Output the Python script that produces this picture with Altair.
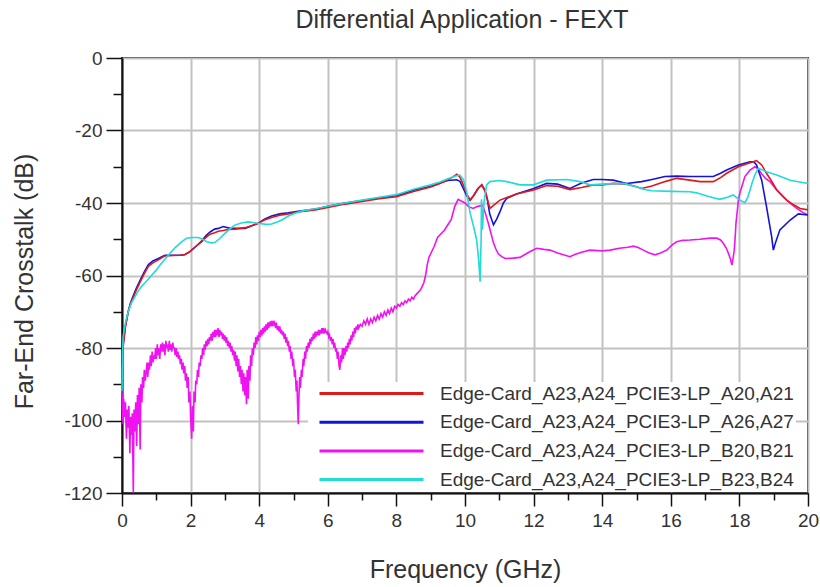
import altair as alt
import pandas as pd

FONT = "Liberation Sans, Arial, Helvetica, sans-serif"

SERIES = [
    "Edge-Card_A23,A24_PCIE3-LP_A20,A21",
    "Edge-Card_A23,A24_PCIE3-LP_A26,A27",
    "Edge-Card_A23,A24_PCIE3-LP_B20,B21",
    "Edge-Card_A23,A24_PCIE3-LP_B23,B24",
]
COLORS = ["#e01818", "#1414d8", "#f012f0", "#22dada"]

# --- A20,A21 (red) ---
a20_f = [0.00, 0.02, 0.05, 0.10, 0.18, 0.25, 0.33, 0.42, 0.52, 0.65, 0.77, 0.90, 1.06, 1.25,
         1.50, 1.70, 1.83, 1.98, 2.15, 2.32, 2.45, 2.57, 2.70, 2.81, 2.95, 3.10, 3.30, 3.59,
         3.80, 3.97, 4.15, 4.36, 4.60, 4.85, 5.19, 5.63, 6.00, 6.50, 7.00, 7.50, 8.00, 8.50,
         9.00, 9.27, 9.50, 9.65, 9.76, 9.85, 9.95, 10.05, 10.15, 10.25, 10.38, 10.49, 10.60,
         10.68, 10.73, 10.85, 11.02, 11.22, 11.50, 12.00, 12.38, 12.70, 13.06, 13.40, 13.74,
         14.00, 14.32, 14.71, 15.00, 15.15, 15.45, 15.83, 16.17, 16.56, 16.85, 17.24, 17.45,
         17.63, 17.97, 18.31, 18.50, 18.65, 18.79, 18.94, 19.09, 19.38, 19.58, 19.77, 20.00]
a20_db = [-83, -80, -78, -74, -70, -67.8, -66, -64, -62, -59.5, -57.5, -56.5, -55.7, -54.6,
          -54.5, -54.4, -54.2, -53.4, -52, -50.7, -49.5, -48.6, -48.2, -47.8, -47.6, -47.3, -47.2, -46.8,
          -46.2, -45.6, -44.7, -44, -43.4, -43, -42.4, -41.9, -41.2, -40.3, -39.6, -38.8, -38.3, -36.8,
          -35.6, -34.6, -33.6, -32.8, -32.1, -32.8, -35, -37.5, -39.2, -38, -36, -35, -37,
          -40, -41.5, -40.5, -39.2, -38.5, -37.5, -36.4, -35.2, -35.4, -36.3, -35.7, -35,
          -35, -34.6, -34.8, -35.5, -36, -35.3, -34.1, -33.2, -33.7, -34.1, -34.1, -33,
          -31.8, -30, -28.9, -28.3, -29.5, -31.8, -34, -36.4, -39.2, -40.5, -41.5, -41.9]

# --- A26,A27 (blue) ---
a26_f = [0.00, 0.02, 0.05, 0.10, 0.18, 0.25, 0.33, 0.42, 0.52, 0.65, 0.77, 0.90, 1.06, 1.25,
         1.50, 1.70, 1.83, 1.98, 2.15, 2.32, 2.45, 2.57, 2.70, 2.81, 2.95, 3.15, 3.59, 3.80,
         3.97, 4.15, 4.36, 4.60, 4.85, 5.19, 5.63, 6.00, 6.50, 7.00, 7.50, 8.00, 8.50, 9.00,
         9.27, 9.50, 9.76, 9.85, 9.95, 10.05, 10.15, 10.25, 10.38, 10.49, 10.58, 10.65, 10.72,
         10.83, 10.92, 11.02, 11.12, 11.22, 11.50, 12.00, 12.38, 12.70, 13.06, 13.40, 13.74,
         14.00, 14.32, 14.71, 15.15, 15.45, 15.83, 16.17, 16.56, 16.85, 17.24, 17.45, 17.63,
         17.97, 18.31, 18.42, 18.50, 18.65, 18.79, 18.94, 18.99, 19.05, 19.18, 19.48, 19.72, 20.00]
a26_db = [-85, -81, -78, -74, -70, -67.5, -65.5, -63.5, -61.5, -59, -57, -56, -55.3, -54.4,
          -54.4, -54.4, -54.3, -53.4, -52, -50.5, -49, -48, -47.2, -47, -46.5, -47, -47, -46.2,
          -45.6, -44.5, -43.6, -43, -42.7, -42.2, -41.7, -40.9, -40, -39.3, -38.6, -38, -36.5, -35.3,
          -34.5, -33.8, -33.6, -34, -36, -38, -39.2, -38, -36, -35, -36.5, -39, -43,
          -46, -44.5, -42.4, -40, -38.7, -37.5, -36, -34.6, -34.8, -36, -34.5, -33.5,
          -33.5, -33.7, -34.6, -34.1, -33.5, -32.7, -32.6, -32.7, -32.7, -32.7, -31.8, -30.9,
          -29.5, -28.6, -28.6, -29.5, -33.7, -41, -49.3, -53, -51, -47.4, -44.7, -43, -43.3]

# --- B20,B21 (magenta): noisy low-frequency lobes, smooth above 10 GHz ---
b20_f = [0.00, 0.03, 0.05, 0.08, 0.10, 0.13, 0.15, 0.18, 0.20, 0.23, 0.25, 0.28, 0.30, 0.33,
         0.35, 0.38, 0.40, 0.43, 0.45, 0.48, 0.50, 0.53, 0.55, 0.58, 0.60, 0.63, 0.65, 0.68,
         0.70, 0.73, 0.75, 0.78, 0.80, 0.83, 0.85, 0.88, 0.90, 0.93, 0.95, 0.98, 1.00, 1.03,
         1.05, 1.08, 1.10, 1.13, 1.15, 1.18, 1.20, 1.23, 1.25, 1.28, 1.30, 1.33, 1.35, 1.38,
         1.40, 1.43, 1.45, 1.48, 1.50, 1.53, 1.55, 1.58, 1.60, 1.63, 1.65, 1.68, 1.70, 1.73,
         1.75, 1.78, 1.80, 1.83, 1.85, 1.88, 1.90, 1.93, 1.95, 1.98, 2.00, 2.03, 2.05, 2.08,
         2.10, 2.13, 2.15, 2.18, 2.20, 2.23, 2.25, 2.28, 2.30, 2.33, 2.35, 2.38, 2.40, 2.43,
         2.45, 2.48, 2.50, 2.53, 2.55, 2.58, 2.60, 2.63, 2.65, 2.68, 2.70, 2.73, 2.75, 2.78,
         2.80, 2.83, 2.85, 2.88, 2.90, 2.93, 2.95, 2.98, 3.00, 3.03, 3.05, 3.08, 3.10, 3.13,
         3.15, 3.18, 3.20, 3.23, 3.25, 3.28, 3.30, 3.33, 3.35, 3.38, 3.40, 3.43, 3.45, 3.48,
         3.50, 3.53, 3.55, 3.58, 3.60, 3.63, 3.65, 3.68, 3.70, 3.73, 3.75, 3.78, 3.80, 3.83,
         3.85, 3.88, 3.90, 3.93, 3.95, 3.98, 4.00, 4.03, 4.05, 4.08, 4.10, 4.13, 4.15, 4.18,
         4.20, 4.23, 4.25, 4.28, 4.30, 4.33, 4.35, 4.38, 4.40, 4.43, 4.45, 4.48, 4.50, 4.53,
         4.55, 4.58, 4.60, 4.63, 4.65, 4.68, 4.70, 4.73, 4.75, 4.78, 4.80, 4.83, 4.85, 4.88,
         4.90, 4.93, 4.95, 4.98, 5.00, 5.03, 5.05, 5.08, 5.10, 5.12, 5.14, 5.16, 5.18, 5.20,
         5.23, 5.25, 5.28, 5.30, 5.33, 5.35, 5.38, 5.40, 5.43, 5.45, 5.48, 5.50, 5.53, 5.55,
         5.58, 5.60, 5.63, 5.65, 5.68, 5.70, 5.73, 5.75, 5.78, 5.80, 5.83, 5.85, 5.88, 5.90,
         5.93, 5.95, 5.98, 6.00, 6.03, 6.05, 6.08, 6.10, 6.13, 6.15, 6.18, 6.20, 6.23, 6.25,
         6.28, 6.30, 6.33, 6.35, 6.38, 6.40, 6.43, 6.45, 6.48, 6.50, 6.53, 6.55, 6.58, 6.60,
         6.63, 6.65, 6.68, 6.70, 6.73, 6.75, 6.78, 6.80, 6.83, 6.85, 6.88, 6.90, 6.95, 7.00,
         7.05, 7.10, 7.15, 7.20, 7.25, 7.30, 7.35, 7.40, 7.45, 7.50, 7.55, 7.60, 7.65, 7.70,
         7.75, 7.80, 7.85, 7.90, 7.95, 8.00, 8.05, 8.10, 8.15, 8.20, 8.25, 8.30, 8.35, 8.40,
         8.45, 8.50, 8.55, 8.60, 8.65, 8.70, 8.75, 8.80, 8.85, 8.90, 8.95, 9.00, 9.10, 9.20,
         9.30, 9.40, 9.50, 9.60, 9.70, 9.80, 9.90, 10.00, 10.10, 10.24, 10.35, 10.52, 10.60,
         10.68, 10.76, 10.83, 10.90, 10.97, 11.07, 11.17, 11.40, 11.60, 11.75, 11.90, 12.09,
         12.30, 12.48, 12.70, 12.87, 13.06, 13.20, 13.40, 13.64, 14.00, 14.23, 14.50, 14.75,
         14.91, 15.05, 15.20, 15.37, 15.54, 15.70, 15.88, 16.05, 16.17, 16.35, 16.56, 16.85,
         17.14, 17.34, 17.45, 17.53, 17.62, 17.68, 17.74, 17.78, 17.82, 17.85, 17.88, 17.90,
         17.94, 17.97, 18.02, 18.07, 18.16, 18.31, 18.45, 18.55, 18.65, 18.77, 18.89, 19.05,
         19.28, 19.47, 19.67, 19.85, 20.00]
b20_db = [-92, -101, -94, -99, -95, -105, -97, -102, -96, -109, -99, -104, -98, -120,
          -97, -103, -95, -107, -93, -101, -91, -108, -90, -95, -88, -91, -86, -89,
          -87, -84, -88, -84, -86, -82, -85, -81, -84, -82, -83, -80, -83, -79,
          -82, -80, -83, -79, -81, -78.5, -81, -79, -82, -78, -80, -79, -81, -78,
          -80.5, -79, -81, -78.5, -80, -80, -82, -80, -82.5, -81, -83, -82, -84.5, -83,
          -86, -84, -87, -85, -89, -87, -91, -88, -95, -92, -99, -105, -96, -103,
          -92, -95, -89, -90, -86, -88, -84, -85, -82, -83, -80, -82, -79, -80.5,
          -78, -79.5, -77.5, -79, -77, -78, -76, -78, -75.5, -77, -75, -77, -75, -76.5,
          -74.5, -77, -75, -76.5, -75.5, -77.5, -76, -78, -76.5, -78.5, -77, -79.5, -78, -80,
          -78.5, -81, -79.5, -82, -80.5, -83.5, -81, -85, -82, -86.5, -83, -88, -85, -90,
          -86, -92, -87, -93, -88, -95.5, -86, -94, -85, -89, -82, -85, -80, -82,
          -78.5, -80, -77, -79, -76.5, -78, -75.5, -77, -75, -76.5, -74.5, -76, -74, -75.5,
          -73.5, -75, -73, -74.5, -72.8, -74, -72.5, -74, -72.5, -73.5, -73, -74.5, -73, -75,
          -74, -75.5, -74, -76, -75, -76.5, -75.5, -77.5, -76, -78.5, -77, -79.5, -78, -81,
          -79.5, -83, -81, -85, -83, -88, -86, -92, -89, -96, -101, -93, -88, -91,
          -86, -88, -83, -85, -81, -83, -79.5, -81, -78.5, -80, -77.5, -79, -77, -78,
          -76, -77.5, -75.5, -77, -75.5, -76.5, -75, -76.5, -75, -76, -74.5, -76, -74.5, -76,
          -75, -75.5, -76, -75.5, -77, -76.5, -78, -77, -79, -77.5, -80, -78.5, -81, -80,
          -83, -81, -85, -86, -82, -84, -80, -83, -80, -82, -79.5, -81, -78.5, -80,
          -77.5, -79, -76.5, -78, -75.5, -77, -74.5, -76, -74, -75, -73.5, -74.5, -73.5, -74,
          -72.5, -73.5, -72, -73.5, -72, -73, -71.5, -72.5, -71, -72, -70.5, -71.5, -70, -71,
          -69.5, -70.5, -69, -70, -68.5, -69, -68, -68.5, -67.5, -68, -67, -67.5, -66.5, -67,
          -66, -66.5, -65.5, -65, -64.5, -64, -63, -62, -60, -57, -55, -54, -52, -49.5,
          -48.5, -47.5, -46, -44.5, -41, -39, -39.5, -40, -41, -41.5, -41, -40.6, -43,
          -45.6, -48.5, -51, -52.7, -54, -54.8, -55.3, -55.2, -55, -54.2, -53.4, -52.5,
          -52.8, -53, -53.8, -54.3, -54.8, -54.2, -53.6, -53, -53.2, -53, -52.5, -52.2,
          -51.9, -52.3, -53, -53.8, -54.3, -53.8, -53, -51.5, -50.7, -50.3, -50.2, -50,
          -49.7, -49.7, -50.2, -51.1, -52.5, -53.9, -55.5, -57.1, -55, -53, -49, -45.6,
          -42, -39.2, -37, -35.5, -32.7, -30.9, -30, -30.6, -32, -33.3, -34.1, -36,
          -38.3, -40, -41.5, -42.6, -43.3]

# --- B23,B24 (cyan) ---
b23_f = [0.00, 0.01, 0.03, 0.10, 0.18, 0.28, 0.38, 0.47, 0.57, 0.72, 0.87, 1.00, 1.11, 1.25,
         1.40, 1.55, 1.74, 1.88, 2.05, 2.22, 2.35, 2.47, 2.60, 2.71, 2.85, 3.00, 3.15, 3.29,
         3.48, 3.68, 3.97, 4.20, 4.36, 4.50, 4.66, 4.85, 5.04, 5.30, 5.63, 6.00, 6.50, 7.00,
         7.50, 8.00, 8.50, 9.00, 9.27, 9.50, 9.70, 9.85, 9.95, 10.05, 10.15, 10.25, 10.34,
         10.40, 10.44, 10.47, 10.48, 10.50, 10.51, 10.55, 10.63, 10.73, 11.00, 11.22, 11.60,
         12.00, 12.38, 12.97, 13.35, 13.64, 14.00, 14.62, 15.00, 15.20, 15.44, 16.00, 16.56,
         16.75, 17.10, 17.43, 17.65, 17.82, 17.92, 18.02, 18.16, 18.24, 18.31, 18.38, 18.45,
         18.55, 18.66, 18.79, 19.09, 19.48, 20.00]
b23_db = [-92, -85, -77, -73, -70, -67.5, -65.8, -64.3, -63, -61.5, -59.9, -58.5, -57.1, -55.5,
          -53.9, -52.3, -50.7, -49.7, -49.5, -49.5, -50, -50.7, -51, -50.9, -49.8, -48.4, -47.1, -46.1,
          -45.5, -45.2, -45.6, -45.9, -45.8, -45.3, -44.7, -43.6, -42.8, -42.1, -41.6, -40.9, -40, -39.2,
          -38.4, -37.7, -36.2, -35, -34.2, -33.3, -32.6, -32.3, -33.5, -37, -42.8, -46.5, -50.2,
          -56, -61.7, -50, -39, -44, -47.4, -40, -35, -34.1, -33.8, -34.1, -35,
          -35, -33.7, -33.5, -34.1, -35, -34.8, -34.6, -35.5, -36.2, -36.6, -36.8, -36.9,
          -37.2, -38.2, -39, -38.4, -37.8, -38.5, -39.2, -39.9, -38.5, -36.4, -34.2, -32.3,
          -30.4, -30.8, -31.4, -32.3, -33.7, -34.6]

curves = [(a20_f, a20_db), (a26_f, a26_db), (b20_f, b20_db), (b23_f, b23_db)]
frames = []
for name, (f, db) in zip(SERIES, curves):
    frames.append(pd.DataFrame({"freq": f, "db": db, "series": name}))
data = pd.concat(frames, ignore_index=True)

x_axis = alt.Axis(
    values=list(range(0, 21)),
    labelExpr="datum.value % 2 === 0 ? datum.label : ''",
    labelOverlap=False, labelFlush=False,
    tickSize={"condition": {"test": "datum.value % 2 === 0", "value": 13}, "value": 7},
    gridOpacity={"condition": {"test": "datum.value % 2 === 0", "value": 1}, "value": 0},
    gridColor="#c2c2c2", gridWidth=2,
    domainColor="#111111", domainWidth=2, tickColor="#111111", tickWidth=1.5,
    labelFont=FONT, labelFontSize=19, labelColor="#333333", labelPadding=5,
    title="Frequency (GHz)", titleFont=FONT, titleFontSize=25, titleFontWeight="normal",
    titleColor="#333333", titleX=343, titleY=84, titleAlign="center", titleBaseline="alphabetic",
)

y_axis = alt.Axis(
    values=list(range(-120, 1, 10)),
    labelExpr="datum.value % 20 === 0 ? toString(datum.value) : ''",
    labelOverlap=False, labelFlush=False,
    tickSize={"condition": {"test": "datum.value % 20 === 0", "value": 16}, "value": 9},
    gridOpacity={"condition": {"test": "datum.value % 20 === 0", "value": 1}, "value": 0},
    gridColor="#c2c2c2", gridWidth=2,
    domainColor="#111111", domainWidth=2, tickColor="#111111", tickWidth=1.5,
    labelFont=FONT, labelFontSize=19, labelColor="#333333", labelPadding=4,
    title="Far-End Crosstalk (dB)", titleFont=FONT, titleFontSize=25, titleFontWeight="normal",
    titleColor="#333333", titleX=-90, titleY=223, titleAngle=270, titleAlign="center",
    titleBaseline="alphabetic",
)

legend = alt.Legend(
    title=None, orient="none", legendX=186, legendY=324,
    fillColor="white", padding=2,
    symbolType="M0,0H52", symbolSize=16, symbolStrokeWidth=3,
    labelFont=FONT, labelFontSize=19, labelColor="#333333", labelOffset=111,
    labelLimit=600, rowPadding=8.7,
)

color = alt.Color("series:N", scale=alt.Scale(domain=SERIES, range=COLORS), legend=legend)

base = alt.Chart(data).mark_line(strokeWidth=1.6).encode(
    x=alt.X("freq:Q", scale=alt.Scale(domain=[0, 20], nice=False), axis=x_axis),
    y=alt.Y("db:Q", scale=alt.Scale(domain=[-120, 0], nice=False), axis=y_axis),
    color=color,
)

# draw order: magenta underneath, then blue, red and cyan on top
draw_order = [SERIES[2], SERIES[1], SERIES[0], SERIES[3]]
layers = [base.transform_filter(alt.datum.series == s) for s in draw_order]

chart = alt.layer(*layers).properties(
    width=686,
    height=435,
    title=alt.TitleParams(
        "Differential Application - FEXT", font=FONT, fontSize=25, fontWeight="normal",
        color="#333333", anchor="middle", frame="group", offset=16, dx=-3,
    ),
    autosize=alt.AutoSizeParams(type="none"),
    padding={"left": 122, "top": 58, "right": 12, "bottom": 94},
).configure_view(stroke="#222222", strokeWidth=2)

chart.save("out.html", embed_options={"renderer": "svg", "actions": False})
